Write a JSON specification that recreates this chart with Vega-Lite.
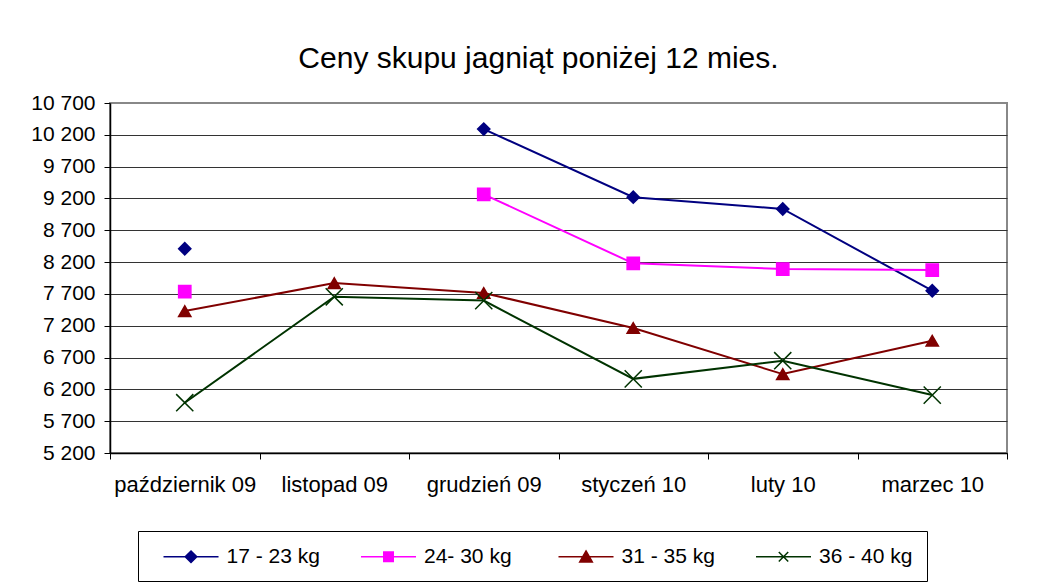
{
  "$schema": "https://vega.github.io/schema/vega-lite/v6.json",
  "width": 897,
  "height": 350,
  "autosize": "none",
  "padding": {"left": 110, "top": 103, "right": 38, "bottom": 131},
  "background": "white",
  "title": {
    "text": "Ceny skupu jagniąt poniżej 12 mies.",
    "font": "Liberation Sans",
    "fontSize": 30,
    "fontWeight": "normal",
    "color": "black",
    "anchor": "middle",
    "dx": -20,
    "offset": 18
  },
  "data": {
    "values": [
      {"miesiac": "październik 09", "seria": "17 - 23 kg", "cena": 8410},
      {"miesiac": "listopad 09", "seria": "17 - 23 kg", "cena": null},
      {"miesiac": "grudzień 09", "seria": "17 - 23 kg", "cena": 10290},
      {"miesiac": "styczeń 10", "seria": "17 - 23 kg", "cena": 9220},
      {"miesiac": "luty 10", "seria": "17 - 23 kg", "cena": 9035},
      {"miesiac": "marzec 10", "seria": "17 - 23 kg", "cena": 7750},
      {"miesiac": "październik 09", "seria": "24- 30 kg", "cena": 7735},
      {"miesiac": "listopad 09", "seria": "24- 30 kg", "cena": null},
      {"miesiac": "grudzień 09", "seria": "24- 30 kg", "cena": 9265},
      {"miesiac": "styczeń 10", "seria": "24- 30 kg", "cena": 8180},
      {"miesiac": "luty 10", "seria": "24- 30 kg", "cena": 8090},
      {"miesiac": "marzec 10", "seria": "24- 30 kg", "cena": 8075},
      {"miesiac": "październik 09", "seria": "31 - 35 kg", "cena": 7430},
      {"miesiac": "listopad 09", "seria": "31 - 35 kg", "cena": 7870},
      {"miesiac": "grudzień 09", "seria": "31 - 35 kg", "cena": 7715},
      {"miesiac": "styczeń 10", "seria": "31 - 35 kg", "cena": 7165},
      {"miesiac": "luty 10", "seria": "31 - 35 kg", "cena": 6440},
      {"miesiac": "marzec 10", "seria": "31 - 35 kg", "cena": 6965},
      {"miesiac": "październik 09", "seria": "36 - 40 kg", "cena": 5990},
      {"miesiac": "listopad 09", "seria": "36 - 40 kg", "cena": 7655},
      {"miesiac": "grudzień 09", "seria": "36 - 40 kg", "cena": 7595},
      {"miesiac": "styczeń 10", "seria": "36 - 40 kg", "cena": 6365},
      {"miesiac": "luty 10", "seria": "36 - 40 kg", "cena": 6650},
      {"miesiac": "marzec 10", "seria": "36 - 40 kg", "cena": 6110}
    ]
  },
  "encoding": {
    "x": {
      "field": "miesiac",
      "type": "nominal",
      "sort": ["październik 09", "listopad 09", "grudzień 09", "styczeń 10", "luty 10", "marzec 10"],
      "scale": {"type": "band", "paddingInner": 0, "paddingOuter": 0},
      "axis": {
        "title": null,
        "labelAngle": 0,
        "labelFont": "Liberation Sans",
        "labelFontSize": 22,
        "labelColor": "black",
        "labelPadding": 15,
        "tickBand": "extent",
        "tickSize": 6,
        "tickColor": "black",
        "domainColor": "black",
        "domainWidth": 1.5,
        "grid": false
      }
    },
    "y": {
      "field": "cena",
      "type": "quantitative",
      "scale": {"domain": [5200, 10700], "nice": false, "zero": false},
      "axis": {
        "title": null,
        "values": [5200, 5700, 6200, 6700, 7200, 7700, 8200, 8700, 9200, 9700, 10200, 10700],
        "labelExpr": "replace(format(datum.value, ',d'), ',', ' ')",
        "labelFont": "Liberation Sans",
        "labelFontSize": 21,
        "labelColor": "black",
        "labelPadding": 9,
        "tickSize": 6,
        "tickColor": "black",
        "domainColor": "black",
        "domainWidth": 1.5,
        "grid": true,
        "gridColor": {"condition": {"test": "datum.value == 10700", "value": "#888888"}, "value": "#333333"},
        "gridWidth": 1
      }
    },
    "color": {
      "field": "seria",
      "type": "nominal",
      "scale": {
        "domain": ["17 - 23 kg", "24- 30 kg", "31 - 35 kg", "36 - 40 kg"],
        "range": ["#000080", "#FF00FF", "#800000", "#003300"]
      },
      "legend": {
        "title": null,
        "orient": "none",
        "legendX": 28,
        "legendY": 428,
        "direction": "horizontal",
        "columns": 4,
        "gridAlign": "all",
        "columnPadding": 29.5,
        "symbolSize": 441,
        "symbolStrokeWidth": 1.5,
        "labelFont": "Liberation Sans",
        "labelFontSize": 21,
        "labelColor": "black",
        "labelOffset": 51.5,
        "labelLimit": 0,
        "strokeColor": "black",
        "padding": 14,
        "encode": {
          "symbols": {
            "update": {
              "shape": {"signal": "datum.value === '17 - 23 kg' ? 'M0,0L5.24,0M2.62,-0.55L3.17,0L2.62,0.55L2.07,0Z' : datum.value === '24- 30 kg' ? 'M0,0L5.24,0M2.17,-0.45L3.07,-0.45L3.07,0.45L2.17,0.45Z' : datum.value === '31 - 35 kg' ? 'M0,0L5.24,0M2.62,-0.55L3.22,0.5L2.02,0.5Z' : 'M0,0L5.24,0M2.17,-0.45L3.07,0.45M3.07,-0.45L2.17,0.45'"},
              "fill": {"scale": "color", "field": "value"},
              "stroke": {"scale": "color", "field": "value"},
              "strokeWidth": {"value": 1.5},
              "opacity": {"value": 1}
            }
          }
        }
      }
    }
  },
  "layer": [
    {
      "mark": {"type": "line", "strokeWidth": 2, "invalid": "break-paths-show-domains"}
    },
    {
      "mark": {"type": "point", "filled": true, "opacity": 1, "size": 150, "strokeWidth": 1.5, "invalid": "filter"},
      "encoding": {
        "shape": {
          "field": "seria",
          "type": "nominal",
          "scale": {
            "domain": ["36 - 40 kg", "31 - 35 kg", "24- 30 kg", "17 - 23 kg"],
            "range": ["M-1.4,-1.4L1.4,1.4M1.4,-1.4L-1.4,1.4", "triangle-up", "square", "diamond"]
          },
          "legend": null
        },
        "stroke": {
          "field": "seria",
          "type": "nominal",
          "scale": {
            "domain": ["36 - 40 kg", "31 - 35 kg", "24- 30 kg", "17 - 23 kg"],
            "range": ["#003300", "#800000", "#FF00FF", "#000080"]
          },
          "legend": null
        }
      }
    }
  ],
  "config": {
    "view": {"stroke": "#888888", "strokeWidth": 2},
    "font": "Liberation Sans"
  }
}
